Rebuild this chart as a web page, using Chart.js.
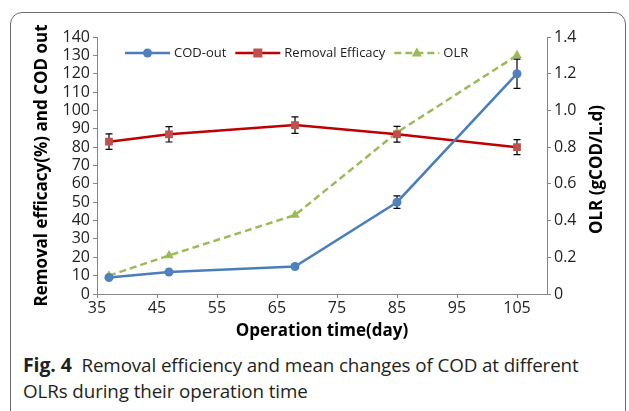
<!DOCTYPE html>
<html>
<head>
<meta charset="utf-8">
<script src="https://cdn.jsdelivr.net/npm/chart.js@4.4.1/dist/chart.umd.min.js"></script>
<style>
body{margin:0;background:#fff;width:629px;height:411px;overflow:hidden;position:relative;font-family:"Open Sans",sans-serif}
#frame{position:absolute;left:10px;top:12px;width:614px;height:430px;border:1.5px solid #6d6e71;border-radius:12px}
#wrap{position:absolute;left:0;top:0;width:629px;height:345px}
#cap{position:absolute;left:23px;top:352px;font-size:18.8px;line-height:26px;color:#231f20;width:600px;letter-spacing:-0.1px;white-space:nowrap}
#cap b{font-size:19.5px}
</style>
</head>
<body>
<div id="frame"></div>
<div id="wrap"><canvas id="chart" width="629" height="345"></canvas></div>
<div id="cap"><b>Fig. 4</b>&nbsp; Removal efficiency and mean changes of COD at different<br>OLRs during their operation time</div>
<script>
// data
const days = [37, 47, 68, 85, 105];
const codOut = [9, 12, 15, 50, 120];
const codErr = [0.8, 0.8, 1, 3.4, 8];
const removal = [83, 87, 92, 87, 80];
const removalErr = [4.2, 4.2, 4.5, 4.3, 4.1];
const olr = [0.1, 0.21, 0.43, 0.88, 1.3];
const xTicks = [35, 45, 55, 65, 75, 85, 95, 105];

const blue = '#4a7ebb', red = '#c00000', redMark = '#c0504d', green = '#9bbb59';
const axisGray = '#868686';

function pts(ys) {
	return days.map((d, i) => ({x: d, y: ys[i]}));
}

// error bars under the markers
const errorBars = {
	id: 'errorBars',
	beforeDatasetsDraw(chart) {
		const ctx = chart.ctx, xs = chart.scales.x, ys = chart.scales.y;
		ctx.save();
		ctx.strokeStyle = '#000';
		ctx.lineWidth = 1.2;
		[[codOut, codErr], [removal, removalErr]].forEach(([vals, errs]) => {
			vals.forEach((v, i) => {
				const px = xs.getPixelForValue(days[i]);
				const top = ys.getPixelForValue(v + errs[i]);
				const bot = ys.getPixelForValue(v - errs[i]);
				ctx.beginPath();
				ctx.moveTo(px, top); ctx.lineTo(px, bot);
				ctx.moveTo(px - 3.5, top); ctx.lineTo(px + 3.5, top);
				ctx.moveTo(px - 3.5, bot); ctx.lineTo(px + 3.5, bot);
				ctx.stroke();
			});
		});
		ctx.restore();
	}
};

function marker(ctx, style, x, y, color) {
	ctx.fillStyle = color;
	ctx.beginPath();
	if (style === 'circle') ctx.arc(x, y, 4.5, 0, Math.PI * 2);
	else if (style === 'rect') ctx.rect(x - 4.5, y - 4.5, 9, 9);
	else { ctx.moveTo(x, y - 5.5); ctx.lineTo(x + 5, y + 3.5); ctx.lineTo(x - 5, y + 3.5); ctx.closePath(); }
	ctx.fill();
}

// legend inside the plot + right axis title (reads bottom to top)
const extras = {
	id: 'extras',
	afterDraw(chart) {
		const ctx = chart.ctx, a = chart.chartArea;
		ctx.save();
		ctx.font = '13px "Open Sans"';
		ctx.textBaseline = 'middle';
		let x = a.left + 28;
		const y = a.top + 16;
		chart.data.datasets.forEach(ds => {
			ctx.strokeStyle = ds.borderColor;
			ctx.lineWidth = 2.5;
			ctx.setLineDash(ds.borderDash || []);
			ctx.beginPath(); ctx.moveTo(x, y); ctx.lineTo(x + 45, y); ctx.stroke();
			ctx.setLineDash([]);
			marker(ctx, ds.pointStyle, x + 22.5, y, ds.pointBackgroundColor);
			ctx.fillStyle = '#222';
			ctx.fillText(ds.label, x + 49, y);
			x += 49 + ctx.measureText(ds.label).width + 9;
		});
		ctx.translate(597, (a.top + a.bottom) / 2 + 4);
		ctx.rotate(-Math.PI / 2);
		ctx.font = 'bold 17px "Open Sans"';
		ctx.textAlign = 'center';
		ctx.fillStyle = '#000';
		ctx.fillText('OLR (gCOD/L.d)', 0, 0);
		ctx.restore();
	}
};

const tickFont = {family: 'Open Sans', size: 16};

new Chart(document.getElementById('chart'), {
	type: 'scatter',
	data: {
		datasets: [{
			label: 'COD-out',
			data: pts(codOut),
			showLine: true,
			borderColor: blue,
			backgroundColor: '#4f81bd',
			pointBackgroundColor: '#4f81bd',
			pointBorderWidth: 0,
			borderWidth: 2.5,
			pointStyle: 'circle',
			pointRadius: 4.5,
			yAxisID: 'y'
		}, {
			label: 'Removal Efficacy',
			data: pts(removal),
			showLine: true,
			borderColor: red,
			backgroundColor: redMark,
			pointBackgroundColor: redMark,
			pointBorderWidth: 0,
			borderWidth: 2.5,
			pointStyle: 'rect',
			pointRadius: 5.5,
			yAxisID: 'y'
		}, {
			label: 'OLR',
			data: pts(olr),
			showLine: true,
			borderColor: green,
			backgroundColor: green,
			pointBackgroundColor: green,
			pointBorderWidth: 0,
			borderWidth: 2.5,
			borderDash: [7, 4],
			pointStyle: 'triangle',
			pointRadius: 5.5,
			yAxisID: 'y1'
		}]
	},
	options: {
		responsive: false,
		animation: false,
		layout: {padding: {left: 28, right: 0, top: 37, bottom: 0}},
		plugins: {legend: {display: false}, tooltip: {enabled: false}},
		scales: {
			x: {
				type: 'linear',
				min: 35,
				max: 110,
				afterBuildTicks(s) { s.ticks = xTicks.map(v => ({value: v})); },
				afterFit(s) { s.height = 51; },
				ticks: {color: '#222', font: tickFont, padding: 1, autoSkip: false, maxRotation: 0},
				grid: {drawOnChartArea: false, tickLength: 4, color: axisGray},
				border: {color: axisGray},
				title: {display: true, text: 'Operation time(day)', color: '#000',
					font: {family: 'Open Sans', size: 17, weight: 'bold'}, padding: {top: 0, bottom: 4}}
			},
			y: {
				position: 'left',
				min: 0,
				max: 140,
				afterFit(s) { s.width = 69; },
				ticks: {stepSize: 10, color: '#222', font: tickFont, padding: 3, autoSkip: false},
				grid: {drawOnChartArea: false, tickLength: 4, color: axisGray},
				border: {color: axisGray},
				title: {display: true, text: 'Removal efficacy(%) and COD out', color: '#000',
					font: {family: 'Open Sans', size: 17, weight: 'bold'}, padding: {top: 4, bottom: 0}}
			},
			y1: {
				position: 'right',
				min: 0,
				max: 1.4,
				afterFit(s) { s.width = 82; },
				ticks: {stepSize: 0.2, color: '#222', font: tickFont, padding: 3, autoSkip: false},
				grid: {drawOnChartArea: false, tickLength: 4, color: axisGray},
				border: {color: axisGray}
			}
		}
	},
	plugins: [errorBars, extras]
});
</script>
</body>
</html>
